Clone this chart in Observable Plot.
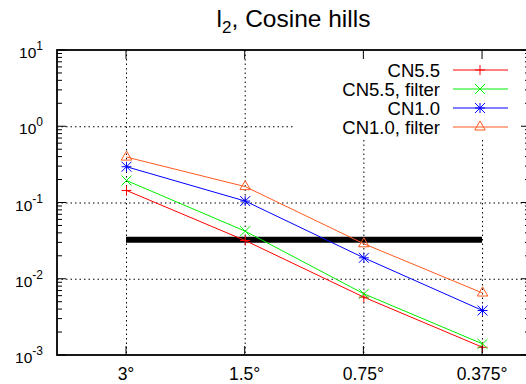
<!DOCTYPE html>
<html><head><meta charset="utf-8">
<script src="https://cdn.jsdelivr.net/npm/d3@7"></script>
<script src="https://cdn.jsdelivr.net/npm/@observablehq/plot@0.6"></script>
<style>body{margin:0;background:#fff} #chart svg{display:block;overflow:hidden}</style>
</head><body><div id="chart"></div>
<script>
// ---- data ----
const resolutions = ["3°", "1.5°", "0.75°", "0.375°"];
const seriesNames = ["CN5.5", "CN5.5, filter", "CN1.0", "CN1.0, filter"];
const cn55       = [0.146, 0.0322, 0.00582, 0.00128];
const cn55filter = [0.197, 0.0427, 0.00644, 0.00142];
const cn10       = [0.299, 0.106, 0.0191, 0.00389];
const cn10filter = [0.400, 0.164, 0.0292, 0.0066];
const thresholdValue = 0.033;
const yTickExponents = [1, 0, -1, -2, -3];
const titleMain = "l", titleSub = "2", titleRest = ", Cosine hills";

const seriesValues = [cn55, cn55filter, cn10, cn10filter];
const colors = ["#ff0000", "#00ee00", "#0000ff", "#ff5a1f"];
const symbols = [["plus"], ["times"], ["plus", "times"], ["triangle2"]];
const symbolR = {plus: 3.3, times: 4.6, triangle2: 5};

const rows = [];
seriesNames.forEach((s, k) => seriesValues[k].forEach((v, i) => rows.push({series: s, i, res: resolutions[i], value: v})));

const font = "Liberation Sans, Arial, Helvetica, sans-serif";
const W = 526, H = 384, mL = 57, mR = -4, mT = 50, mB = 29;

function keyBox(index, scales, values, dim) {
  const g = d3.create("svg:g");
  const right = dim.width - dim.marginRight;
  g.append("rect").attr("x", right - 237).attr("y", dim.marginTop).attr("width", 237).attr("height", 87).attr("fill", "white");
  return g.node();
}

function axes(index, scales, values, dim) {
  const g = d3.create("svg:g").attr("font-family", font).attr("fill", "black");
  const left = dim.marginLeft, right = dim.width - dim.marginRight;
  const top = dim.marginTop, bottom = dim.height - dim.marginBottom;
  const x = scales.x, y = scales.y;
  // y ticks
  yTickExponents.forEach(e => {
    const yy = y(Math.pow(10, e));
    g.append("line").attr("x1", left).attr("x2", left + 9).attr("y1", yy).attr("y2", yy).attr("stroke", "black");
    g.append("line").attr("x1", right - 9).attr("x2", right).attr("y1", yy).attr("y2", yy).attr("stroke", "black");
    const t = g.append("text").attr("x", 43).attr("y", yy + 8).attr("text-anchor", "end").attr("font-size", 15.5);
    t.append("tspan").text("10");
    t.append("tspan").attr("font-size", 12).attr("dy", -8).text(String(e));
    if (e > -3) {
      for (let d = 2; d <= 9; d++) {
        const ym = y(d * Math.pow(10, e - 1));
        g.append("line").attr("x1", left).attr("x2", left + 5).attr("y1", ym).attr("y2", ym).attr("stroke", "black");
        g.append("line").attr("x1", right - 5).attr("x2", right).attr("y1", ym).attr("y2", ym).attr("stroke", "black");
      }
    }
  });
  // x ticks
  resolutions.forEach((r, i) => {
    const xx = x(i);
    g.append("line").attr("x1", xx).attr("x2", xx).attr("y1", bottom).attr("y2", bottom - 9).attr("stroke", "black");
    g.append("line").attr("x1", xx).attr("x2", xx).attr("y1", top).attr("y2", top + 9).attr("stroke", "black");
    g.append("text").attr("x", xx).attr("y", bottom + 25).attr("text-anchor", "middle").attr("font-size", 17.5).text(r);
  });
  // frame
  g.append("rect").attr("x", left).attr("y", top).attr("width", right - left).attr("height", bottom - top)
    .attr("fill", "none").attr("stroke", "black").attr("stroke-width", 1.8);
  // title
  const t = g.append("text").attr("x", (left + right) / 2).attr("y", 27).attr("text-anchor", "middle").attr("font-size", 24.5);
  t.append("tspan").text(titleMain);
  t.append("tspan").attr("font-size", 17).attr("dy", 6).text(titleSub);
  t.append("tspan").attr("dy", -6).text(titleRest);
  return g.node();
}

function legend(index, scales, values, dim) {
  const g = d3.create("svg:g").attr("font-family", font);
  const right = dim.width - dim.marginRight;
  seriesNames.forEach((s, k) => {
    const yy = dim.marginTop + 20 + 19 * k;
    g.append("text").attr("x", right - 90).attr("y", yy + 6.5).attr("text-anchor", "end").attr("font-size", 18.5).attr("fill", "black").text(s);
    g.append("line").attr("x1", right - 77).attr("x2", right - 22).attr("y1", yy).attr("y2", yy).attr("stroke", colors[k]);
    symbols[k].forEach(sym => {
      g.append("path").attr("transform", `translate(${right - 50},${yy})`)
        .attr("d", d3.symbol(sym === "plus" ? d3.symbolPlus : sym === "times" ? d3.symbolTimes : d3.symbolTriangle2, Math.PI * symbolR[sym] ** 2)())
        .attr("fill", "none").attr("stroke", colors[k]).attr("stroke-width", 1);
    });
  });
  return g.node();
}

const dotMarks = [];
seriesNames.forEach((s, k) => {
  symbols[k].forEach(sym => {
    dotMarks.push(Plot.dot(rows.filter(d => d.series === s), {x: "i", y: "value", symbol: () => sym, r: symbolR[sym], stroke: colors[k], strokeWidth: 1, fill: "none"}));
  });
});

const chart = Plot.plot({
  width: W, height: H, marginLeft: mL, marginRight: mR, marginTop: mT, marginBottom: mB,
  style: {background: "white", fontFamily: font},
  x: {type: "linear", domain: [-0.5815, 3.404], axis: null},
  y: {type: "log", domain: [1e-3, 10], axis: null},
  symbol: {type: "identity"},
  marks: [
    Plot.ruleY([1, 0.1, 0.01], {stroke: "black", strokeWidth: 1, strokeDasharray: "1.5,3"}),
    Plot.ruleX(resolutions.map((r, i) => i), {stroke: "black", strokeWidth: 1, strokeDasharray: "1.5,3"}),
    keyBox,
    Plot.ruleY([thresholdValue], {x1: 0, x2: resolutions.length - 1, stroke: "black", strokeWidth: 6}),
    Plot.line(rows, {x: "i", y: "value", z: "series", stroke: d => colors[seriesNames.indexOf(d.series)], strokeWidth: 1}),
    ...dotMarks,
    axes,
    legend
  ]
});
document.getElementById("chart").appendChild(chart);
</script>
</body></html>
